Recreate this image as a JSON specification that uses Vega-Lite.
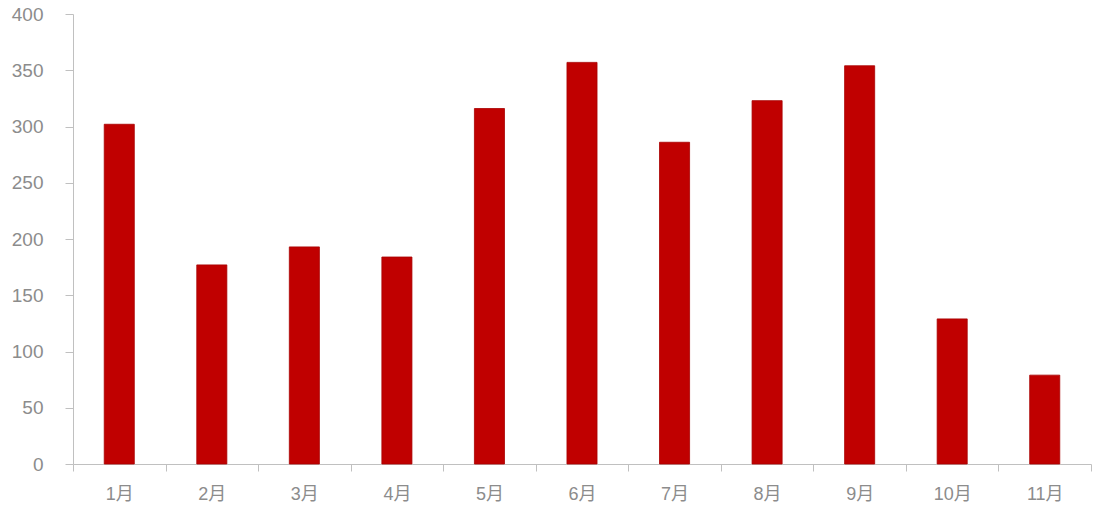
{
  "$schema": "https://vega.github.io/schema/vega-lite/v6.json",
  "width": 1018,
  "height": 450,
  "autosize": {"type": "none"},
  "padding": {"left": 73, "top": 14, "right": 7, "bottom": 46},
  "background": "white",
  "config": {
    "view": {"stroke": null},
    "font": "Liberation Sans, Noto Sans CJK SC"
  },
  "data": {
    "values": [
      {"month": "1月", "value": 302},
      {"month": "2月", "value": 177},
      {"month": "3月", "value": 193},
      {"month": "4月", "value": 184},
      {"month": "5月", "value": 316},
      {"month": "6月", "value": 357},
      {"month": "7月", "value": 286},
      {"month": "8月", "value": 323},
      {"month": "9月", "value": 354},
      {"month": "10月", "value": 129},
      {"month": "11月", "value": 79}
    ]
  },
  "mark": {"type": "bar", "color": "#c00000", "stroke": "#a80000", "strokeWidth": 0.8, "width": {"band": 0.325}},
  "encoding": {
    "x": {
      "field": "month",
      "type": "nominal",
      "sort": null,
      "scale": {"paddingInner": 0, "paddingOuter": 0},
      "axis": {
        "title": null,
        "labelAngle": 0,
        "tickBand": "extent",
        "domainColor": "#c0c0c0",
        "tickColor": "#c0c0c0",
        "tickSize": 7,
        "labelColor": "#8c8c8c",
        "labelFontSize": 18,
        "labelPadding": 14,
        "labelFont": "Liberation Sans, Noto Sans CJK SC"
      }
    },
    "y": {
      "field": "value",
      "type": "quantitative",
      "scale": {"domain": [0, 400], "nice": false},
      "axis": {
        "title": null,
        "values": [0, 50, 100, 150, 200, 250, 300, 350, 400],
        "grid": false,
        "domainColor": "#c0c0c0",
        "tickColor": "#c0c0c0",
        "tickSize": 8,
        "labelColor": "#8c8c8c",
        "labelFontSize": 19,
        "labelPadding": 22
      }
    }
  }
}
